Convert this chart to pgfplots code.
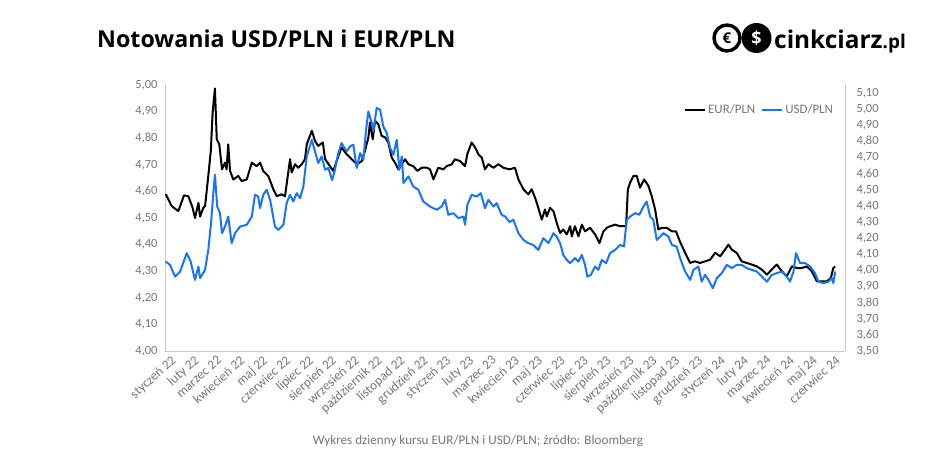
\documentclass[border=0pt]{standalone}
\usepackage{fontspec}
\setmainfont{Carlito}
\newfontfamily\titlefont{Open Sans}
\usepackage{pgfplots}
\usepackage{pgfplotstable}
\pgfplotsset{compat=1.18}
\definecolor{usdblue}{RGB}{24,116,246}
\definecolor{lblgray}{RGB}{118,118,118}
\definecolor{axgray}{RGB}{200,200,200}

\pgfplotstableread{
m v
0.03 4.590
0.29 4.545
0.58 4.526
0.83 4.585
1.02 4.582
1.20 4.540
1.31 4.500
1.46 4.557
1.53 4.505
1.67 4.538
1.75 4.545
1.89 4.658
2.00 4.752
2.08 4.897
2.18 4.987
2.26 4.796
2.37 4.777
2.49 4.683
2.62 4.708
2.69 4.683
2.76 4.777
2.84 4.677
2.98 4.645
3.20 4.658
3.35 4.639
3.57 4.645
3.79 4.708
4.00 4.695
4.15 4.708
4.29 4.677
4.51 4.658
4.73 4.608
4.88 4.582
5.09 4.589
5.24 4.582
5.46 4.721
5.53 4.671
5.68 4.702
5.82 4.689
5.97 4.702
6.11 4.721
6.19 4.777
6.41 4.828
6.55 4.790
6.69 4.771
6.89 4.784
6.99 4.721
7.20 4.695
7.35 4.677
7.57 4.733
7.71 4.765
7.93 4.740
8.15 4.721
8.37 4.702
8.59 4.714
8.73 4.752
8.88 4.803
8.95 4.859
9.07 4.796
9.17 4.865
9.31 4.853
9.46 4.809
9.61 4.803
9.75 4.784
9.90 4.727
10.04 4.708
10.19 4.683
10.34 4.702
10.48 4.721
10.63 4.702
10.84 4.695
11.02 4.677
11.21 4.689
11.43 4.689
11.57 4.683
11.72 4.645
11.93 4.689
12.15 4.683
12.30 4.695
12.52 4.702
12.66 4.721
12.88 4.714
13.10 4.695
13.20 4.740
13.39 4.784
13.54 4.765
13.68 4.740
13.83 4.727
13.97 4.683
14.12 4.702
14.34 4.689
14.56 4.702
14.77 4.689
15.04 4.683
15.28 4.689
15.43 4.645
15.65 4.608
15.86 4.589
16.01 4.608
16.16 4.576
16.30 4.538
16.45 4.494
16.59 4.532
16.67 4.506
16.81 4.538
16.96 4.526
17.10 4.482
17.25 4.444
17.39 4.457
17.54 4.438
17.69 4.469
17.76 4.431
17.90 4.469
18.05 4.431
18.20 4.475
18.34 4.450
18.56 4.463
18.78 4.438
18.97 4.406
19.14 4.450
19.29 4.463
19.43 4.469
19.65 4.475
19.87 4.469
20.13 4.469
20.21 4.608
20.31 4.633
20.45 4.658
20.60 4.658
20.74 4.614
20.92 4.645
21.11 4.620
21.25 4.582
21.40 4.532
21.54 4.457
21.69 4.463
21.91 4.463
22.13 4.450
22.31 4.450
22.49 4.410
22.71 4.369
22.93 4.331
23.14 4.337
23.36 4.331
23.58 4.337
23.80 4.343
24.02 4.369
24.24 4.356
24.45 4.381
24.60 4.400
24.75 4.381
24.96 4.369
25.18 4.337
25.40 4.331
25.62 4.325
25.84 4.318
26.06 4.306
26.28 4.287
26.49 4.306
26.71 4.325
26.93 4.300
27.15 4.281
27.37 4.318
27.59 4.312
27.80 4.312
28.02 4.318
28.24 4.300
28.46 4.262
28.68 4.262
28.90 4.262
29.07 4.274
29.18 4.312
29.26 4.318
}\eurdata

\pgfplotstableread{
m v
0.03 4.055
0.22 4.034
0.44 3.961
0.66 3.993
0.95 4.107
1.12 4.055
1.31 3.941
1.46 4.024
1.53 3.952
1.75 4.003
1.89 4.127
2.01 4.293
2.11 4.479
2.18 4.593
2.28 4.396
2.40 4.355
2.49 4.231
2.62 4.272
2.76 4.334
2.91 4.169
3.06 4.231
3.28 4.272
3.57 4.283
3.79 4.334
3.93 4.469
4.07 4.458
4.15 4.386
4.29 4.469
4.44 4.500
4.59 4.438
4.80 4.272
4.95 4.251
5.17 4.283
5.31 4.417
5.46 4.469
5.60 4.427
5.75 4.479
5.90 4.448
6.04 4.520
6.19 4.707
6.41 4.810
6.55 4.738
6.69 4.666
6.84 4.707
6.99 4.624
7.13 4.635
7.30 4.560
7.42 4.624
7.57 4.728
7.71 4.790
7.93 4.738
8.08 4.769
8.22 4.780
8.37 4.635
8.52 4.728
8.66 4.686
8.78 4.873
8.88 4.986
9.03 4.914
9.10 4.862
9.24 5.007
9.39 4.997
9.53 4.893
9.68 4.852
9.83 4.759
9.97 4.717
10.12 4.810
10.23 4.624
10.34 4.707
10.41 4.542
10.63 4.583
10.84 4.520
11.06 4.500
11.28 4.427
11.57 4.396
11.86 4.376
12.08 4.396
12.23 4.438
12.37 4.345
12.59 4.355
12.81 4.324
13.03 4.334
13.10 4.283
13.20 4.407
13.39 4.469
13.61 4.458
13.79 4.479
13.97 4.386
14.12 4.438
14.34 4.396
14.48 4.417
14.70 4.345
14.85 4.334
15.04 4.300
15.21 4.314
15.43 4.231
15.65 4.189
15.86 4.169
16.08 4.158
16.30 4.127
16.52 4.200
16.74 4.169
16.96 4.231
17.10 4.210
17.25 4.169
17.39 4.096
17.54 4.065
17.69 4.045
17.90 4.076
18.05 4.055
18.20 4.096
18.34 4.034
18.44 3.961
18.59 3.972
18.78 4.024
18.92 4.003
19.07 4.065
19.26 4.045
19.43 4.107
19.65 4.127
19.87 4.158
20.04 4.148
20.16 4.314
20.31 4.334
20.52 4.355
20.71 4.345
20.89 4.396
21.03 4.427
21.18 4.334
21.32 4.314
21.47 4.189
21.62 4.210
21.76 4.231
21.98 4.210
22.13 4.158
22.34 4.148
22.49 4.076
22.71 3.993
22.93 3.941
23.07 4.003
23.29 4.024
23.43 3.930
23.58 3.972
23.73 3.941
23.92 3.889
24.09 3.952
24.31 3.983
24.53 4.034
24.75 4.014
24.96 4.034
25.18 4.034
25.40 4.014
25.62 4.003
25.84 3.993
26.06 3.961
26.28 3.930
26.49 3.972
26.71 3.983
26.93 3.993
27.15 3.961
27.29 3.930
27.44 3.993
27.55 4.107
27.73 4.045
27.95 4.045
28.17 4.024
28.38 3.983
28.53 3.930
28.75 3.921
28.97 3.930
29.11 3.952
29.18 3.921
29.26 3.993
}\usddata

\pgfplotsset{
  common/.style={
    at={(165bp,-351bp)}, anchor=south west,
    scale only axis, width=680bp, height=266bp,
    xmin=0, xmax=29.69,
    axis line style={axgray, line width=0.8bp},
    major tick length=0pt,
    tick label style={font=\fontsize{12.5}{14}\selectfont, text=lblgray},
    /pgf/number format/.cd, fixed, fixed zerofill, precision=2, use comma, assume math mode=true,
  }
}

\begin{document}
\begin{tikzpicture}
\path[use as bounding box] (0bp,0bp) rectangle (948bp,-464bp);
\node[anchor=base west, inner sep=0pt, font=\titlefont\bfseries\fontsize{23.3}{27}\selectfont] at (97bp,-47bp) {Notowania USD/PLN i EUR/PLN};
% logo
\draw[line width=3.4bp, fill=white] (727bp,-38bp) circle (13bp);
\node[font=\titlefont\bfseries\fontsize{15}{16}\selectfont, inner sep=0pt] at (727bp,-38bp) {€};
\fill[black] (756.5bp,-38bp) circle (15bp);
\node[font=\titlefont\bfseries\fontsize{18}{19}\selectfont, text=white, inner sep=0pt] at (756.5bp,-38bp) {\$};
\node[anchor=base west, inner sep=0pt, font=\titlefont\bfseries\fontsize{24.5}{26}\selectfont] at (774bp,-48bp) {cinkciarz\fontsize{19}{20}\selectfont.pl};
\node[font=\fontsize{13.2}{15}\selectfont, text=lblgray] at (478bp,-441bp) {Wykres dzienny kursu EUR/PLN i USD/PLN; źródło: Bloomberg};

\begin{axis}[common,
  ymin=4, ymax=5,
  axis x line*=bottom, axis y line*=left,
  ytick={4,4.1,4.2,4.3,4.4,4.5,4.6,4.7,4.8,4.9,5},
  yticklabel style={xshift=-4bp},
  xtick={0,...,29},
  xticklabels={styczeń 22,luty 22,marzec 22,kwiecień 22,maj 22,czerwiec 22,lipiec 22,sierpień 22,wrzesień 22,październik 22,listopad 22,grudzień 22,styczeń 23,luty 23,marzec 23,kwiecień 23,maj 23,czerwiec 23,lipiec 23,sierpień 23,wrzesień 23,październik 23,listopad 23,grudzień 23,styczeń 24,luty 24,marzec 24,kwiecień 24,maj 24,czerwiec 24},
  xticklabel style={rotate=42, anchor=north east, inner sep=1.5bp, xshift=3bp, yshift=-5bp, font=\fontsize{13.3}{15}\selectfont},
]
\addplot[black, line width=2bp, line join=round] table[x=m, y=v] {\eurdata};
\end{axis}

\begin{axis}[common,
  ymin=3.5, ymax=5.15,
  axis x line=none, axis y line*=right,
  ytick={3.5,3.6,3.7,3.8,3.9,4.0,4.1,4.2,4.3,4.4,4.5,4.6,4.7,4.8,4.9,5.0,5.1},
  yticklabel style={xshift=8bp},
  legend columns=2,
  legend style={draw=none, fill=none, at={(0.99,0.906)}, anchor=east,
    font=\fontsize{13}{15}\selectfont, text=lblgray,
    /tikz/every even column/.append style={column sep=4bp}},
  legend image code/.code={\draw[#1] (0bp,0bp) -- (20bp,0bp);},
]
\addlegendimage{black, line width=2bp}
\addlegendentry{EUR/PLN}
\addplot[usdblue, line width=2bp, line join=round] table[x=m, y=v] {\usddata};
\addlegendentry{USD/PLN}
\end{axis}
\end{tikzpicture}
\end{document}
